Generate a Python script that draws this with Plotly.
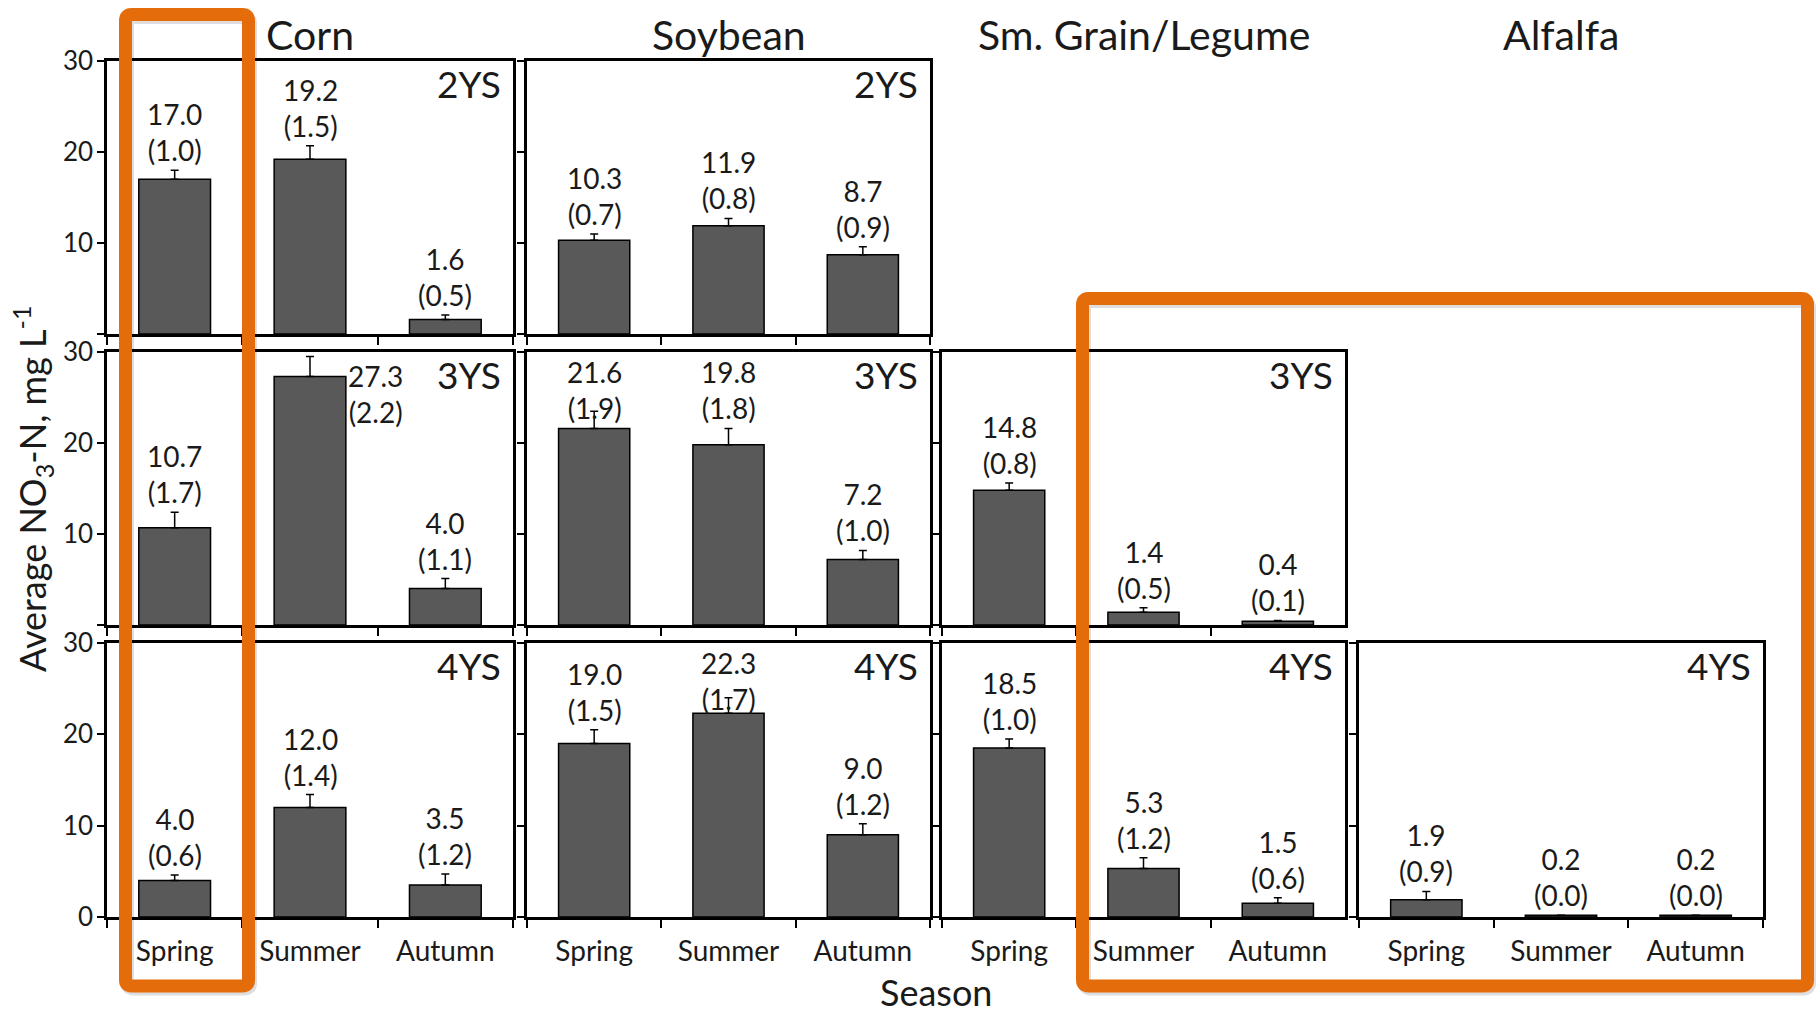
import plotly.graph_objects as go

W, H = 1816, 1016

# ---- data -----------------------------------------------------------------
seasons = ["Spring", "Summer", "Autumn"]
crops = ["Corn", "Soybean", "Sm. Grain/Legume", "Alfalfa"]
systems = ["2YS", "3YS", "4YS"]

corn_2ys = [17.0, 19.2, 1.6]
corn_2ys_se = [1.0, 1.5, 0.5]
soy_2ys = [10.3, 11.9, 8.7]
soy_2ys_se = [0.7, 0.8, 0.9]

corn_3ys = [10.7, 27.3, 4.0]
corn_3ys_se = [1.7, 2.2, 1.1]
soy_3ys = [21.6, 19.8, 7.2]
soy_3ys_se = [1.9, 1.8, 1.0]
grain_3ys = [14.8, 1.4, 0.4]
grain_3ys_se = [0.8, 0.5, 0.1]

corn_4ys = [4.0, 12.0, 3.5]
corn_4ys_se = [0.6, 1.4, 1.2]
soy_4ys = [19.0, 22.3, 9.0]
soy_4ys_se = [1.5, 1.7, 1.2]
grain_4ys = [18.5, 5.3, 1.5]
grain_4ys_se = [1.0, 1.2, 0.6]
alfalfa_4ys = [1.9, 0.2, 0.2]
alfalfa_4ys_se = [0.9, 0.0, 0.0]

y_ticks = [0, 10, 20, 30]

# (row = rotation system, column = crop, means, standard errors)
panels = [
    (0, 0, corn_2ys, corn_2ys_se),
    (0, 1, soy_2ys, soy_2ys_se),
    (1, 0, corn_3ys, corn_3ys_se),
    (1, 1, soy_3ys, soy_3ys_se),
    (1, 2, grain_3ys, grain_3ys_se),
    (2, 0, corn_4ys, corn_4ys_se),
    (2, 1, soy_4ys, soy_4ys_se),
    (2, 2, grain_4ys, grain_4ys_se),
    (2, 3, alfalfa_4ys, alfalfa_4ys_se),
]

# ---- layout geometry (pixels) -----------------------------------------------
col_px = [(107, 513), (527, 930), (942, 1345), (1359, 1763)]
row_px = [(61, 334), (352, 625), (643, 917)]

FONT = "Lato, 'Open Sans', sans-serif"
INK = "#1a1a1a"
BAR = "#595959"
ORANGE = "#E46C0A"


def px_x(x):
    return x / W


def px_y(y):
    return 1 - y / H


fig = go.Figure()
layout = {}
annotations = []

for k, (row, col, means, se) in enumerate(panels, start=1):
    xa = "x" if k == 1 else f"x{k}"
    ya = "y" if k == 1 else f"y{k}"
    x0, x1 = col_px[col]
    y0, y1 = row_px[row]

    fig.add_trace(go.Bar(
        x=seasons, y=means, xaxis=xa, yaxis=ya, width=0.53,
        marker=dict(color=BAR, line=dict(color="black", width=1.5)),
        error_y=dict(type="data", array=se, arrayminus=[0] * len(se),
                     symmetric=False, color="black", thickness=1.5, width=4),
        hoverinfo="skip",
    ))

    layout["xaxis" if k == 1 else f"xaxis{k}"] = dict(
        domain=[px_x(x0), px_x(x1)], anchor=ya, type="category",
        categoryorder="array", categoryarray=seasons, range=[-0.5, 2.5],
        tickson="boundaries", ticks="outside", ticklen=8, tickwidth=2,
        tickcolor="black", showline=True, linewidth=2.5, linecolor="black",
        mirror=True, showgrid=False, zeroline=False, automargin=False,
        showticklabels=(row == 2), ticklabelstandoff=8,
        tickfont=dict(size=28, color=INK, family=FONT),
    )

    # the zero label is only written on the bottom row; upper rows keep a bare tick
    labelled = y_ticks if row == 2 else [t for t in y_ticks if t != 0]
    yax = dict(
        domain=[px_y(y1), px_y(y0)], anchor=xa, range=[0, 30],
        tickvals=labelled, ticktext=[str(t) for t in labelled],
        ticks="outside", ticklen=7, tickwidth=2, tickcolor="black",
        showline=True, linewidth=2.5, linecolor="black", mirror=True,
        showgrid=False, zeroline=False, showticklabels=(col == 0),
        automargin=False, ticklabelstandoff=-1,
        tickfont=dict(size=26, color=INK, family=FONT),
    )
    if row != 2:
        yax["minor"] = dict(tickvals=[0], ticks="outside", ticklen=7,
                            tickwidth=2, tickcolor="black", showgrid=False)
    layout["yaxis" if k == 1 else f"yaxis{k}"] = yax

    # rotation-system tag in the upper-right corner of each panel
    annotations.append(dict(
        text=systems[row], xref=f"{xa} domain", yref=f"{ya} domain",
        x=1, y=1, xanchor="right", yanchor="top", xshift=-10, yshift=2,
        showarrow=False, font=dict(size=37, color=INK, family=FONT),
    ))

    # mean and (SE) above each bar
    for season, v, s in zip(seasons, means, se):
        top = v + s
        ann = dict(text=f"{v:.1f}<br>({s:.1f})", xref=xa, yref=ya, x=season,
                   showarrow=False, font=dict(size=28, color=INK, family=FONT))
        if top > 27:
            ann.update(y=top, xanchor="left", yanchor="top", xshift=36)
        elif top + 7.8 > 30:
            ann.update(y=30, yanchor="top", yshift=-1)
        else:
            ann.update(y=top, yanchor="bottom", yshift=1)
        annotations.append(ann)

# crop headings over each column
for name, (x0, x1) in zip(crops, col_px):
    annotations.append(dict(
        text=name, xref="paper", yref="paper", x=px_x((x0 + x1) / 2),
        y=px_y(34), xanchor="center", yanchor="middle", showarrow=False,
        font=dict(size=41, color=INK, family=FONT),
    ))

# axis titles
annotations.append(dict(
    text="Season", xref="paper", yref="paper", x=px_x(936), y=0,
    xanchor="center", yanchor="bottom", showarrow=False,
    font=dict(size=36, color=INK, family=FONT),
))
annotations.append(dict(
    text="Average NO<sub>3</sub>-N, mg L<sup>-1</sup>", xref="paper",
    yref="paper", x=px_x(32), y=px_y(489), xanchor="center",
    yanchor="middle", textangle=-90, showarrow=False,
    font=dict(size=36, color=INK, family=FONT),
))


def rounded_rect(x0, y0, x1, y1, r):
    pts = [
        f"M {px_x(x0 + r)},{px_y(y0)}",
        f"L {px_x(x1 - r)},{px_y(y0)}",
        f"Q {px_x(x1)},{px_y(y0)} {px_x(x1)},{px_y(y0 + r)}",
        f"L {px_x(x1)},{px_y(y1 - r)}",
        f"Q {px_x(x1)},{px_y(y1)} {px_x(x1 - r)},{px_y(y1)}",
        f"L {px_x(x0 + r)},{px_y(y1)}",
        f"Q {px_x(x0)},{px_y(y1)} {px_x(x0)},{px_y(y1 - r)}",
        f"L {px_x(x0)},{px_y(y0 + r)}",
        f"Q {px_x(x0)},{px_y(y0)} {px_x(x0 + r)},{px_y(y0)}",
        "Z",
    ]
    return " ".join(pts)


highlight_boxes = [(125.5, 14.5, 248.5, 986), (1082.5, 298.5, 1807.5, 986)]
shapes = []
for (a, b, c, d) in highlight_boxes:
    shapes.append(dict(type="path", xref="paper", yref="paper",
                       path=rounded_rect(a + 2, b + 3, c + 2, d + 3, 6),
                       line=dict(color="rgba(0,0,0,0.13)", width=13)))
for (a, b, c, d) in highlight_boxes:
    shapes.append(dict(type="path", xref="paper", yref="paper",
                       path=rounded_rect(a, b, c, d, 6),
                       line=dict(color=ORANGE, width=13)))

fig.update_layout(
    width=W, height=H, margin=dict(l=0, r=0, t=0, b=0, autoexpand=False),
    paper_bgcolor="white", plot_bgcolor="white", showlegend=False,
    font=dict(family=FONT, color=INK), annotations=annotations,
    shapes=shapes, bargap=0.47, **layout,
)

fig.write_html("out.html")
